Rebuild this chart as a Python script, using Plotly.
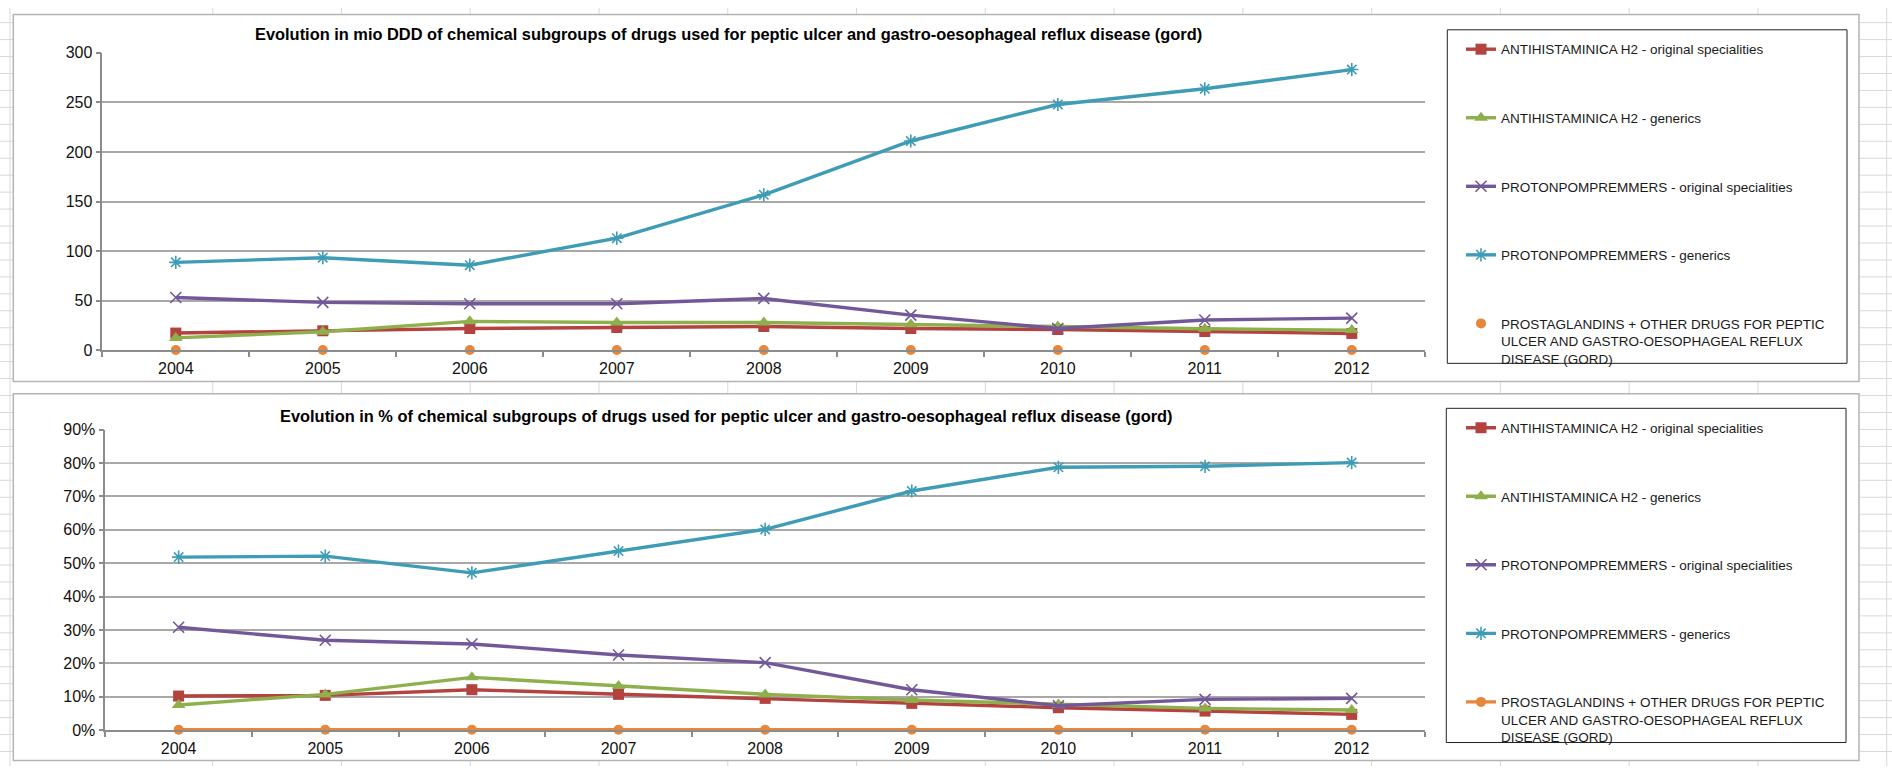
import plotly.graph_objects as go

# ---------------- data ----------------
years = ["2004", "2005", "2006", "2007", "2008", "2009", "2010", "2011", "2012"]

series_names = [
    "ANTIHISTAMINICA H2 - original specialities",
    "ANTIHISTAMINICA H2 - generics",
    "PROTONPOMPREMMERS - original specialities",
    "PROTONPOMPREMMERS - generics",
    "PROSTAGLANDINS + OTHER DRUGS FOR PEPTIC<br>ULCER AND GASTRO-OESOPHAGEAL REFLUX<br>DISEASE (GORD)",
]

# mio DDD
ddd_h2_orig = [17.4, 19.7, 22.0, 23.0, 24.0, 22.0, 21.0, 19.0, 17.0]
ddd_h2_gen = [12.5, 18.7, 29.2, 28.0, 28.0, 26.3, 24.0, 21.7, 20.4]
ddd_ppi_orig = [53.2, 48.3, 47.0, 47.0, 52.3, 35.5, 22.0, 30.6, 32.5]
ddd_ppi_gen = [88.7, 93.3, 85.8, 113.0, 156.7, 211.0, 247.8, 263.6, 283.0]
ddd_prost = [0.3, 0.3, 0.3, 0.3, 0.3, 0.3, 0.3, 0.3, 0.3]

# percentage
pct_h2_orig = [10.2, 10.4, 12.1, 10.7, 9.5, 8.0, 6.7, 5.7, 4.7]
pct_h2_gen = [7.5, 10.7, 15.8, 13.2, 10.7, 9.0, 7.7, 6.5, 6.0]
pct_ppi_orig = [30.8, 26.9, 25.8, 22.5, 20.2, 12.1, 7.3, 9.2, 9.5]
pct_ppi_gen = [51.8, 52.1, 47.1, 53.6, 60.1, 71.6, 78.7, 79.0, 80.1]
pct_prost = [0.1, 0.1, 0.1, 0.1, 0.1, 0.1, 0.1, 0.1, 0.1]

title_top = "Evolution in mio DDD of chemical subgroups of drugs used for peptic ulcer and gastro-oesophageal reflux disease (gord)"
title_bot = "Evolution in % of chemical subgroups of drugs used for peptic ulcer and gastro-oesophageal reflux disease (gord)"

# ---------------- styles ----------------
colors = ["#B4433F", "#8DB04C", "#735899", "#3F9CB6", "#E8863A"]
markers = [
    dict(symbol="square", size=11),
    dict(symbol="triangle-up", size=12),
    dict(symbol="x-thin-open", size=11, line=dict(width=1.6)),
    dict(symbol="asterisk-open", size=11, line=dict(width=1.6)),
    dict(symbol="circle", size=10),
]
FONT = "Liberation Sans, Arial, sans-serif"

W, H = 1892, 775


def px(x):
    return x / W


def py(y):
    return 1 - y / H


fig = go.Figure()

top_series = [ddd_h2_orig, ddd_h2_gen, ddd_ppi_orig, ddd_ppi_gen, ddd_prost]
bot_series = [pct_h2_orig, pct_h2_gen, pct_ppi_orig, pct_ppi_gen, pct_prost]


def marker_for(i):
    m = dict(markers[i])
    m["color"] = colors[i]
    if "line" in m:
        m["line"] = dict(m["line"], color=colors[i])
    return m


for i, vals in enumerate(top_series):
    fig.add_trace(go.Scatter(
        x=years, y=vals, name=series_names[i],
        mode="markers" if i == 4 else "lines+markers",
        line=dict(color=colors[i], width=3.4),
        marker=marker_for(i), xaxis="x", yaxis="y",
        legend="legend", legendgroup="t%d" % i,
        cliponaxis=False,
    ))

for i, vals in enumerate(bot_series):
    fig.add_trace(go.Scatter(
        x=years, y=vals, name=series_names[i],
        mode="lines+markers",
        line=dict(color=colors[i], width=3.4),
        marker=marker_for(i), xaxis="x2", yaxis="y2",
        legend="legend2", legendgroup="b%d" % i,
        cliponaxis=False,
    ))

# ---------------- background: spreadsheet grid + chart frames ----------------
shapes = []
grid_col = "#d9d9d9"
col_lines = [10] + [212.7 + 128.77 * k for k in range(14)]
for cx in col_lines:
    shapes.append(dict(type="line", xref="paper", yref="paper", x0=px(cx), x1=px(cx),
                       y0=0, y1=1, line=dict(color=grid_col, width=1), layer="below"))
ry = 32.3 - 17.33
while ry < H:
    shapes.append(dict(type="line", xref="paper", yref="paper", x0=0, x1=1,
                       y0=py(ry), y1=py(ry), line=dict(color=grid_col, width=1), layer="below"))
    ry += 17.33

frames = [(13.3, 6.7, 1859, 382), (13.3, 394.3, 1859, 769.3)]
for (x0, y0, x1, y1) in frames:
    shapes.append(dict(type="rect", xref="paper", yref="paper",
                       x0=px(x0), x1=px(x1), y0=py(y1), y1=py(y0),
                       fillcolor="white", line=dict(color="#b4b4b4", width=1.5), layer="below"))

leg_boxes = [(1447.3, 22.3, 1847, 363.3), (1446.3, 409.3, 1846, 751)]
for (x0, y0, x1, y1) in leg_boxes:
    shapes.append(dict(type="rect", xref="paper", yref="paper",
                       x0=px(x0), x1=px(x1), y0=py(y1), y1=py(y0),
                       line=dict(color="#222222", width=1), layer="above"))

axis_common = dict(
    showline=True, linecolor="#8c8c8c", linewidth=1.5,
    ticks="outside", ticklen=5, tickcolor="#8c8c8c", tickwidth=1.5,
    tickfont=dict(family=FONT, size=16, color="#111111"),
    zeroline=False,
)

legend_common = dict(
    xanchor="left", yanchor="top",
    bgcolor="rgba(0,0,0,0)", borderwidth=0,
    font=dict(family=FONT, size=13.5, color="#1a1a1a"),
    traceorder="grouped", tracegroupgap=48, itemwidth=30, valign="top",
)

fig.update_layout(
    width=W, height=H, autosize=False,
    margin=dict(l=0, r=0, t=0, b=0),
    paper_bgcolor="white", plot_bgcolor="rgba(0,0,0,0)",
    showlegend=True,
    shapes=shapes,
    xaxis=dict(domain=[px(102.3), px(1425.3)], anchor="y", type="category",
               range=[-0.5, 8.5], tickson="boundaries", showgrid=False,
               ticklabelstandoff=3, **axis_common),
    yaxis=dict(domain=[py(350), py(45.7)], anchor="x", range=[0, 300], dtick=50,
               showgrid=True, gridcolor="#a8a8a8", gridwidth=1.5, **axis_common),
    xaxis2=dict(domain=[px(105.3), px(1425)], anchor="y2", type="category",
                range=[-0.5, 8.5], tickson="boundaries", showgrid=False,
                ticklabelstandoff=3, **axis_common),
    yaxis2=dict(domain=[py(738.3), py(431)], anchor="x2", range=[0, 90], dtick=10,
                ticksuffix="%", showgrid=True, gridcolor="#a8a8a8", gridwidth=1.5, **axis_common),
    legend=dict(x=px(1461), y=py(26.5), **legend_common),
    legend2=dict(x=px(1461), y=py(413.5), **legend_common),
    annotations=[
        dict(text="<b>%s</b>" % title_top, xref="paper", yref="paper",
             x=px(252.7), y=py(26.7), xanchor="left", yanchor="middle", showarrow=False,
             font=dict(family=FONT, size=16.4, color="#000000")),
        dict(text="<b>%s</b>" % title_bot, xref="paper", yref="paper",
             x=px(278.3), y=py(416.7), xanchor="left", yanchor="middle", showarrow=False,
             font=dict(family=FONT, size=16.4, color="#000000")),
    ],
)

fig.write_html("out.html", post_script="document.body.style.margin='0';")
